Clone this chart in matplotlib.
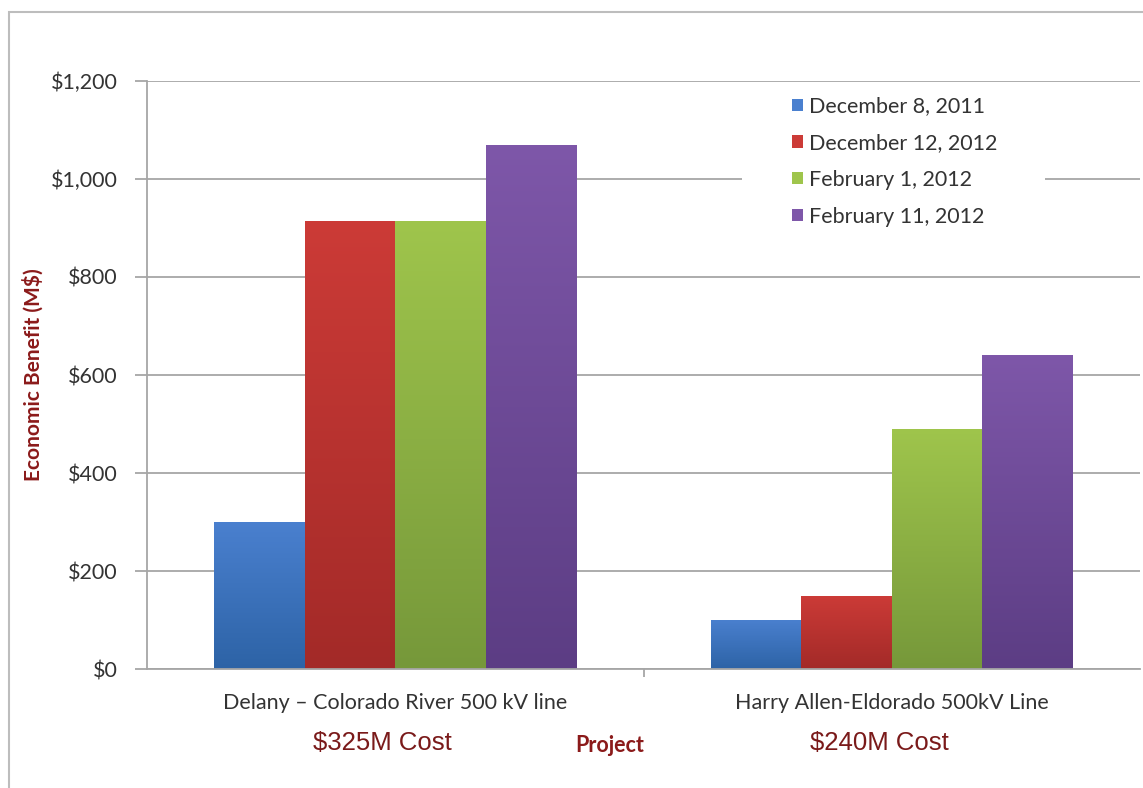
import numpy as np
import matplotlib
matplotlib.use("Agg")
import matplotlib.pyplot as plt
import matplotlib.patches as mpatches
from matplotlib.colors import LinearSegmentedColormap

# data
projects = ["Delany \u2013 Colorado River 500 kV line", "Harry Allen-Eldorado 500kV Line"]
costs = ["$325M Cost", "$240M Cost"]
series = ["December 8, 2011", "December 12, 2012", "February 1, 2012", "February 11, 2012"]
dec8_2011 = [300, 100]
dec12_2012 = [915, 150]
feb1_2012 = [915, 490]
feb11_2012 = [1070, 640]
values = [dec8_2011, dec12_2012, feb1_2012, feb11_2012]

top_cols = ["#4a80cf", "#cc3b37", "#9fc54c", "#7e57a9"]
bot_cols = ["#2d63a6", "#a32a28", "#76983a", "#5c3d84"]

plt.rcParams['font.family'] = ['Lato', 'DejaVu Sans']

fig = plt.figure(figsize=(11.43, 7.88), dpi=100)
# outer chart border
fig.add_artist(mpatches.Rectangle((9 / 1143, -0.05), 1.2, 1 - 12 / 788 + 0.05,
                                  transform=fig.transFigure, fill=False,
                                  edgecolor="#bdbdbd", lw=1.5))
ax = fig.add_axes([147 / 1143, 1 - 669 / 788, (1140 - 147) / 1143, (669 - 81) / 788])

x = np.arange(len(projects))
w = 0.1825
grad = np.linspace(0, 1, 256).reshape(-1, 1)
for i, vals in enumerate(values):
    cmap = LinearSegmentedColormap.from_list("g%d" % i, [bot_cols[i], top_cols[i]])
    bars = ax.bar(x + (i - 1.5) * w, vals, w, color=top_cols[i], label=series[i],
                  edgecolor="none", zorder=2)
    for b in bars:
        x0, y0 = b.get_x(), b.get_y()
        im = ax.imshow(grad, extent=[x0, x0 + b.get_width(), y0, y0 + b.get_height()],
                       origin="lower", cmap=cmap, aspect="auto", zorder=2.5)
        im.set_clip_path(b)

ax.set_xlim(-0.5, 1.5)
ax.set_ylim(0, 1200)
ax.set_yticks(range(0, 1201, 200))
ax.set_yticklabels(["$0", "$200", "$400", "$600", "$800", "$1,000", "$1,200"],
                   fontsize=15.5, color="#333333")
ax.set_xticks([0.5])
ax.set_xticklabels([""])
ax.grid(axis="y", color="#a6a6a6", lw=1.3, zorder=0)
for s in ["top", "right"]:
    ax.spines[s].set_visible(False)
for s in ["left", "bottom"]:
    ax.spines[s].set_color("#a6a6a6")
    ax.spines[s].set_linewidth(1.3)
ax.tick_params(axis="y", length=9, color="#a6a6a6", width=1.3, pad=12)
ax.tick_params(axis="x", length=6, color="#a6a6a6", width=1.3)

for xi, name, cost in zip(x, projects, costs):
    ax.text(xi, -0.058, name, transform=ax.get_xaxis_transform(), ha="center", va="center",
            fontsize=15.5, color="#333333")
    ax.text(xi - 0.025, -0.126, cost, transform=ax.get_xaxis_transform(), ha="center",
            va="center", fontsize=18.5, color="#7a1a1a",
            family=["Liberation Sans Narrow", "Liberation Sans", "DejaVu Sans"])

ax.text((610 - 147) / 993, -0.13, "Project", transform=ax.transAxes, ha="center",
        va="center", fontsize=15.5, fontweight="bold", color="#8b1a1a")
fig.text(33 / 1143, 1 - 375 / 788, "Economic Benefit (M$)", rotation=90, ha="center",
         va="center", fontsize=15, fontweight="bold", color="#8b1a1a")

# white area behind the legend hides the gridline
ax.add_patch(mpatches.Rectangle((0.599, 0.738), 0.305, 0.25, transform=ax.transAxes,
                                facecolor="white", edgecolor="none", zorder=3))
handles = [mpatches.Patch(facecolor=top_cols[i], label=series[i]) for i in range(4)]
leg = ax.legend(handles=handles, loc="upper left", bbox_to_anchor=(0.6496, 0.974),
                frameon=False, fontsize=15.5, handlelength=0.5, handleheight=0.5,
                handletextpad=0.3, labelspacing=0.78, borderpad=0, borderaxespad=0)
leg.set_zorder(4)
for t in leg.get_texts():
    t.set_color("#333333")

fig.savefig("out.png", dpi=100)
